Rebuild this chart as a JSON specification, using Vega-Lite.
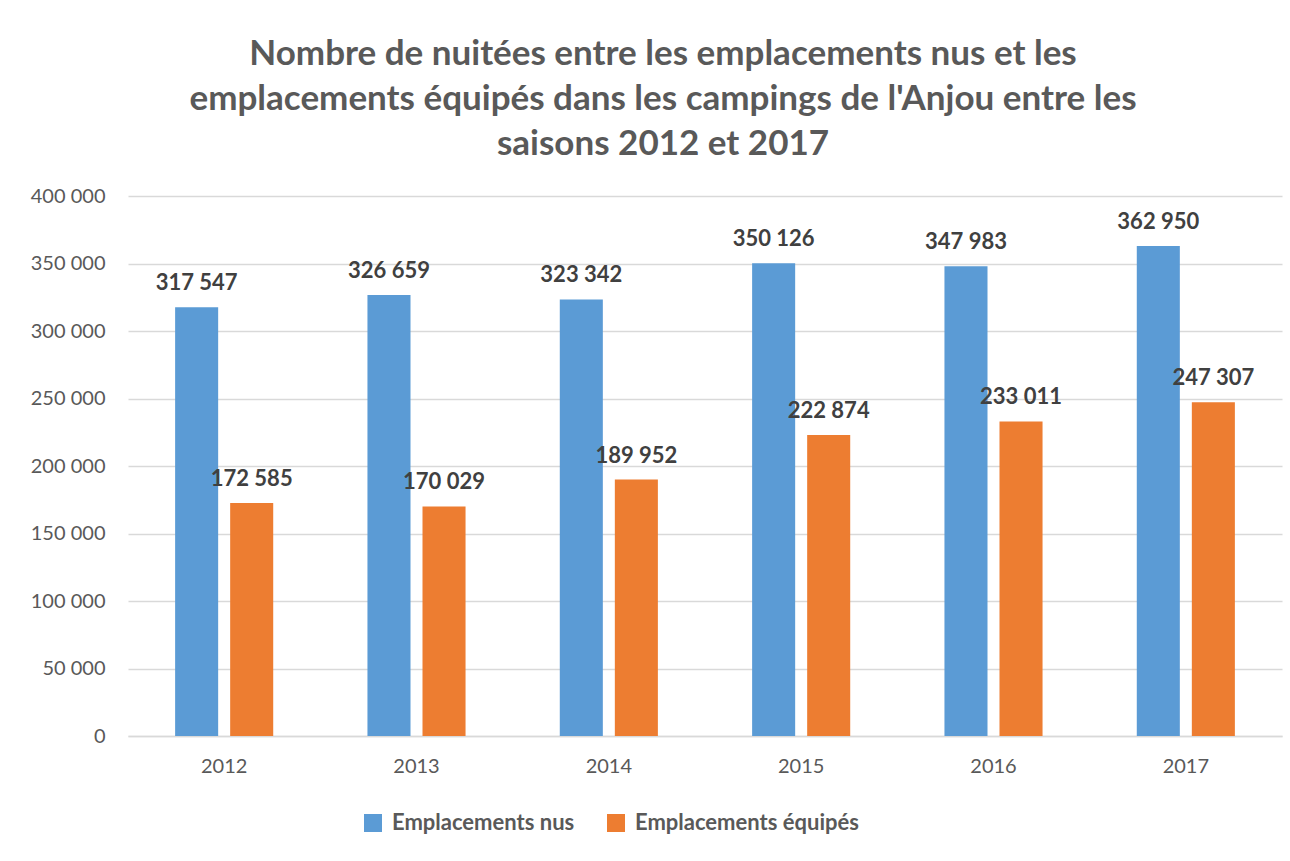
{
  "$schema": "https://vega.github.io/schema/vega-lite/v6.json",
  "width": 1154,
  "height": 540,
  "autosize": {"type": "none"},
  "padding": {"left": 128, "top": 196, "right": 8, "bottom": 125},
  "background": "white",
  "title": {
    "text": ["Nombre de nuitées entre les emplacements nus et les", "emplacements équipés dans les campings de l'Anjou entre les", "saisons 2012 et 2017"],
    "font": "Lato",
    "fontSize": 35,
    "fontWeight": "bold",
    "color": "#595959",
    "anchor": "middle",
    "dx": -42,
    "offset": 24,
    "lineHeight": 45
  },
  "data": {
    "values": [
      {"annee": "2012", "type": "Emplacements nus", "valeur": 317547},
      {"annee": "2012", "type": "Emplacements équipés", "valeur": 172585},
      {"annee": "2013", "type": "Emplacements nus", "valeur": 326659},
      {"annee": "2013", "type": "Emplacements équipés", "valeur": 170029},
      {"annee": "2014", "type": "Emplacements nus", "valeur": 323342},
      {"annee": "2014", "type": "Emplacements équipés", "valeur": 189952},
      {"annee": "2015", "type": "Emplacements nus", "valeur": 350126},
      {"annee": "2015", "type": "Emplacements équipés", "valeur": 222874},
      {"annee": "2016", "type": "Emplacements nus", "valeur": 347983},
      {"annee": "2016", "type": "Emplacements équipés", "valeur": 233011},
      {"annee": "2017", "type": "Emplacements nus", "valeur": 362950},
      {"annee": "2017", "type": "Emplacements équipés", "valeur": 247307}
    ]
  },
  "encoding": {
    "x": {
      "field": "annee", "type": "nominal", "title": null,
      "scale": {"paddingInner": 0.49, "paddingOuter": 0.245},
      "axis": {"labelAngle": 0, "ticks": false, "domainColor": "#D9D9D9", "domainWidth": 1.5, "labelPadding": 20, "labelFontSize": 20, "labelFont": "Lato", "labelColor": "#595959", "grid": false}
    },
    "xOffset": {
      "field": "type", "type": "nominal",
      "sort": ["Emplacements nus", "Emplacements équipés"],
      "scale": {"paddingInner": 0.218, "paddingOuter": 0}
    },
    "y": {
      "field": "valeur", "type": "quantitative", "title": null,
      "scale": {"domain": [0, 400000]},
      "axis": {"values": [0, 50000, 100000, 150000, 200000, 250000, 300000, 350000, 400000], "format": ",d", "domain": false, "ticks": false, "labelPadding": 23, "labelFontSize": 20, "labelFont": "Lato", "labelColor": "#595959", "gridColor": "#D9D9D9", "gridWidth": 1.5}
    }
  },
  "layer": [
    {
      "mark": {"type": "bar"},
      "encoding": {
        "color": {
          "field": "type", "type": "nominal",
          "sort": ["Emplacements nus", "Emplacements équipés"],
          "scale": {"domain": ["Emplacements nus", "Emplacements équipés"], "range": ["#5B9BD5", "#ED7D31"]},
          "legend": {
            "title": null, "orient": "none", "direction": "horizontal",
            "legendX": 234, "legendY": 616,
            "symbolType": "square", "symbolSize": 324, "symbolStrokeWidth": 0,
            "labelFont": "Lato", "labelFontSize": 22, "labelFontWeight": "bold", "labelColor": "#595959",
            "labelOffset": 8, "columnPadding": 30, "labelLimit": 400
          }
        }
      }
    },
    {
      "mark": {"type": "text", "baseline": "alphabetic", "dy": -17, "font": "Lato", "fontSize": 22, "fontWeight": "bold", "color": "#404040"},
      "encoding": {
        "text": {"field": "valeur", "type": "quantitative", "format": ",d"}
      }
    }
  ],
  "config": {
    "locale": {"number": {"decimal": ",", "thousands": " ", "grouping": [3], "currency": ["", " €"]}},
    "view": {"stroke": null}
  }
}
